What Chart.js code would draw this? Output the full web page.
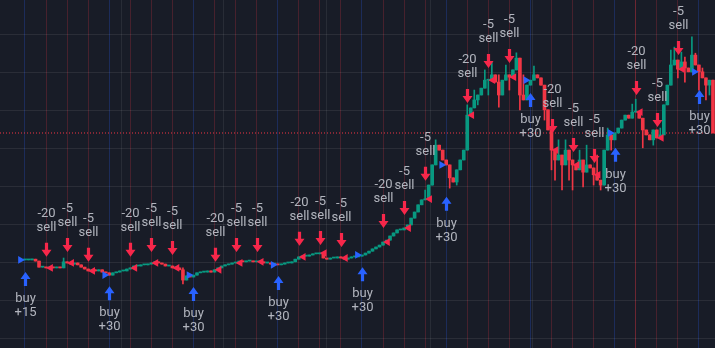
<!DOCTYPE html>
<html>
<head>
  <meta charset="UTF-8">
  <title>Strategy trades</title>
  <script src="https://cdn.jsdelivr.net/npm/chart.js"></script>
  <style>
    body { margin: 0; background: #181c27; }
    #wrap { width: 715px; height: 348px; }
  </style>
</head>
<body>
  <div id="wrap"><canvas id="tradeChart" width="715" height="348"></canvas></div>

  <script>
    // bar index of the first candle, closes follow one per bar
    const firstBar = 8;
    const closes = [
      130.6, 130.6, 130.8, 130.3, 128.7, 128.7, 128.5, 128.7, 128.5, 128.7, 128.5, 130.1, 129.8,
      129.5, 129.8, 129.3, 128.7, 128.2, 127.7, 128.0, 127.7, 128.0, 127.4, 127.2, 126.6,
      127.2, 127.4, 127.7, 127.7, 128.2, 128.5, 129.0, 129.0, 129.3, 129.3, 129.5, 129.8,
      130.1, 129.8, 129.5, 129.0, 129.0, 128.5, 128.5, 128.0, 125.3, 126.4, 126.1, 126.6,
      127.2, 127.4, 127.4, 127.7, 127.4, 128.0, 128.5, 129.0, 129.3, 129.5, 129.8, 129.8,
      130.3, 130.1, 130.3, 130.3, 130.1, 130.1, 130.1, 129.8, 129.8, 129.5, 129.5, 129.3,
      129.5, 129.8, 129.8, 130.1, 130.8, 131.4, 131.6, 131.6, 131.9, 132.2, 132.2, 132.4,
      131.1, 130.8, 131.1, 131.1, 131.4, 131.1, 130.8, 131.1, 131.4, 131.4, 131.6, 131.9,
      132.4, 132.9, 133.5, 134.0, 134.5, 135.3, 135.8, 136.9, 137.7, 138.5, 138.5, 139.0,
      139.8, 141.6, 143.2, 145.1, 146.4, 146.6, 150.3, 155.6, 160.8, 159.5, 156.9, 155.6,
      152.2, 151.1, 154.3, 156.9, 159.5, 168.7, 170.6, 172.7, 174.0, 175.8, 177.9, 177.9,
      179.3, 177.4, 174.0, 177.9, 179.3, 178.7, 180.6, 183.7, 174.0, 172.7, 176.6, 177.9,
      179.3, 178.5, 176.6, 170.1, 164.8, 159.5, 156.9, 158.2, 155.6, 159.5, 156.9, 155.6,
      154.3, 156.9, 153.7, 155.6, 154.8, 153.0, 151.6, 150.3, 159.5, 163.5, 162.2, 164.0,
      165.3, 167.4, 168.7, 167.9, 169.5, 169.5, 167.9, 164.8, 163.5, 162.2, 164.8, 162.7,
      163.5, 171.4, 176.6, 181.9, 183.2, 180.8, 182.7, 181.1, 180.1, 184.5, 181.9, 180.1,
      178.5, 176.6, 177.9, 164.0
    ];
    // [bar, price] wick extremes beyond the body
    const wickHigh = [
      [19, 131.1], [53, 128.5], [122, 149.0], [125, 162.2], [134, 171.4], [136, 175.3],
      [139, 180.6], [141, 182.7], [143, 179.3], [145, 181.9], [148, 185.1], [150, 179.3],
      [153, 181.6], [157, 168.7], [160, 162.2], [162, 162.2], [166, 159.5], [168, 160.8],
      [171, 158.2], [174, 165.3], [181, 171.6], [182, 172.9], [189, 165.3], [192, 185.8],
      [193, 186.6], [195, 185.3], [196, 184.0], [198, 189.3], [199, 185.0], [201, 181.1]
    ];
    const wickLow = [
      [53, 124.3], [129, 149.5], [131, 150.3], [137, 171.4], [140, 174.0], [143, 170.8],
      [146, 175.3], [149, 170.1], [151, 172.7], [156, 167.4], [158, 154.3], [159, 151.6],
      [161, 149.0], [163, 151.6], [164, 149.0], [167, 149.8], [170, 150.3], [172, 149.0],
      [175, 159.5], [184, 160.1], [187, 160.8], [194, 178.5], [196, 177.4], [200, 175.3],
      [202, 172.7], [203, 174.0]
    ];

    // strategy orders
    const eventBars = [8, 14, 20, 26, 32, 38, 44, 50, 56, 62, 68, 74, 80, 86, 92, 98, 104,
      110, 116, 122, 128, 134, 140, 146, 152, 158, 164, 170, 176, 182, 188, 194, 200];
    const eventSide = ['buy', 'sell', 'sell', 'sell', 'buy', 'sell', 'sell', 'sell', 'buy',
      'sell', 'sell', 'sell', 'buy', 'sell', 'sell', 'sell', 'buy', 'sell', 'sell', 'sell',
      'buy', 'sell', 'sell', 'sell', 'buy', 'sell', 'sell', 'sell', 'buy', 'sell', 'sell',
      'sell', 'buy'];
    const eventQty = ['+15', '-20', '-5', '-5', '+30', '-20', '-5', '-5', '+30', '-20', '-5',
      '-5', '+30', '-20', '-5', '-5', '+30', '-20', '-5', '-5', '+30', '-20', '-5', '-5',
      '+30', '-20', '-5', '-5', '+30', '-20', '-5', '-5', '+30'];
    // high (sell) or low (buy) of the bar the arrow points at
    const eventMark = [129.5, 129.3, 130.6, 128.0, 125.8, 129.3, 130.6, 129.8, 125.6, 128.0,
      130.6, 130.6, 128.5, 132.2, 132.4, 131.9, 130.8, 136.9, 140.3, 149.3, 149.3, 169.8,
      179.0, 180.3, 176.6, 161.9, 156.9, 154.0, 162.2, 171.9, 163.5, 182.4, 177.4];

    const timeLines = [35.4, 64.6, 94.0, 123.4, 152.7, 182.0];
    const priceLines = [110, 120, 130, 140, 150, 160, 170, 180, 190];

    const xMin = 0.88, xMax = 204.58;
    const yMin = 107.42, yMax = 199;

    const UP = '#089981', DOWN = '#f23645';
    const SELL = '#f7274a', BUY = '#2962ff';
    const triGap = 1.3;

    const bars = closes.map((c, k) => {
      const i = firstBar + k;
      const o = k ? closes[k - 1] : c;
      let hi = Math.max(o, c), lo = Math.min(o, c);
      const wh = wickHigh.find(w => w[0] === i);
      const wl = wickLow.find(w => w[0] === i);
      if (wh) hi = Math.max(hi, wh[1]);
      if (wl) lo = Math.min(lo, wl[1]);
      return { i, o, c, hi, lo, col: c >= o ? UP : DOWN };
    });

    const closeAt = bar => closes[bar - firstBar];
    const lastClose = closes[closes.length - 1];

    const tradeMarks = {
      id: 'tradeMarks',
      afterDatasetsDraw(chart) {
        const { ctx, scales: { x, y } } = chart;
        ctx.save();
        ctx.font = '13px Roboto';
        ctx.textAlign = 'center';
        ctx.textBaseline = 'middle';
        eventBars.forEach((bar, n) => {
          const px = Math.round(x.getPixelForValue(bar)) + 0.5;
          const py = y.getPixelForValue(eventMark[n]);
          ctx.beginPath();
          if (eventSide[n] === 'sell') {
            const tip = py - 8, top = tip - 14;
            ctx.fillStyle = SELL;
            ctx.moveTo(px - 1.6, top);
            ctx.lineTo(px + 1.6, top);
            ctx.lineTo(px + 1.6, tip - 7);
            ctx.lineTo(px + 5, tip - 7);
            ctx.lineTo(px, tip);
            ctx.lineTo(px - 5, tip - 7);
            ctx.lineTo(px - 1.6, tip - 7);
            ctx.closePath();
            ctx.fill();
            ctx.fillStyle = '#b2b5be';
            ctx.fillText('sell', px, top - 15);
            ctx.fillText(eventQty[n], px, top - 29);
          } else {
            const tip = py + 8, bottom = tip + 14;
            ctx.fillStyle = BUY;
            ctx.moveTo(px - 1.6, bottom);
            ctx.lineTo(px + 1.6, bottom);
            ctx.lineTo(px + 1.6, tip + 7);
            ctx.lineTo(px + 5, tip + 7);
            ctx.lineTo(px, tip);
            ctx.lineTo(px - 5, tip + 7);
            ctx.lineTo(px - 1.6, tip + 7);
            ctx.closePath();
            ctx.fill();
            ctx.fillStyle = '#b2b5be';
            ctx.fillText('buy', px, bottom + 13);
            ctx.fillText(eventQty[n], px, bottom + 27);
          }
        });
        ctx.restore();
      }
    };

    const buyIdx = eventBars.filter((b, n) => eventSide[n] === 'buy');
    const sellIdx = eventBars.filter((b, n) => eventSide[n] === 'sell');

    new Chart(document.getElementById('tradeChart'), {
      type: 'bar',
      data: {
        datasets: [
          {
            type: 'bar',
            data: bars.map(b => ({ x: b.i, y: [b.lo, b.hi] })),
            backgroundColor: bars.map(b => b.col),
            barThickness: 1,
            grouped: false,
            order: 4
          },
          {
            type: 'bar',
            data: bars.map(b => ({ x: b.i, y: [b.o, b.c] })),
            backgroundColor: bars.map(b => b.col),
            barThickness: 3,
            minBarLength: 1,
            grouped: false,
            order: 3
          },
          {
            type: 'line',
            data: [{ x: xMin, y: lastClose }, { x: xMax, y: lastClose }],
            borderColor: DOWN,
            borderWidth: 1,
            borderDash: [1, 2],
            pointRadius: 0,
            order: 5
          },
          {
            type: 'scatter',
            data: buyIdx.map(b => ({ x: b - triGap, y: closeAt(b) })),
            pointStyle: 'triangle',
            pointRotation: 90,
            pointRadius: 4.5,
            pointBackgroundColor: BUY,
            pointBorderWidth: 0,
            order: 1
          },
          {
            type: 'scatter',
            data: sellIdx.map(b => ({ x: b + triGap, y: closeAt(b) })),
            pointStyle: 'triangle',
            pointRotation: -90,
            pointRadius: 4.5,
            pointBackgroundColor: SELL,
            pointBorderWidth: 0,
            order: 1
          }
        ]
      },
      options: {
        responsive: false,
        animation: false,
        events: [],
        layout: { padding: 0, autoPadding: false },
        plugins: { legend: { display: false }, tooltip: { enabled: false } },
        scales: {
          x: {
            type: 'linear',
            min: xMin,
            max: xMax,
            offset: false,
            ticks: { display: false },
            border: { display: false },
            afterBuildTicks: scale => {
              scale.ticks = [...timeLines, ...eventBars].sort((a, b) => a - b).map(v => ({ value: v }));
            },
            grid: {
              offset: false,
              drawTicks: false,
              color: ctx => {
                const n = eventBars.indexOf(ctx.tick.value);
                if (n < 0) return 'rgba(255,255,255,0.07)';
                return eventSide[n] === 'buy' ? 'rgba(41,98,255,0.24)' : 'rgba(242,54,69,0.22)';
              }
            }
          },
          y: {
            type: 'linear',
            min: yMin,
            max: yMax,
            ticks: { display: false },
            border: { display: false },
            afterBuildTicks: scale => {
              scale.ticks = priceLines.map(v => ({ value: v }));
            },
            grid: { drawTicks: false, color: 'rgba(255,255,255,0.08)' }
          }
        }
      },
      plugins: [tradeMarks]
    });
  </script>
</body>
</html>
